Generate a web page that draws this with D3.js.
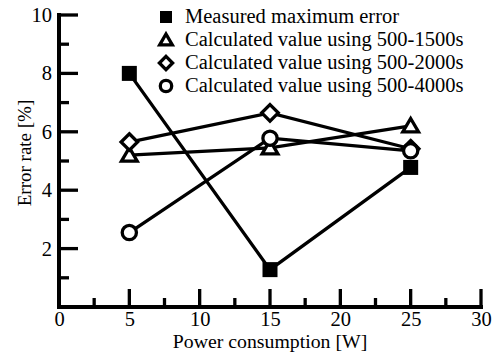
<!DOCTYPE html>
<html><head><meta charset="utf-8">
<script src="https://cdn.jsdelivr.net/npm/d3@7"></script>
<style>body{margin:0;background:#fff}svg{display:block}</style>
</head><body><svg id="c" width="499" height="352"></svg>
<script>
const powers = [5, 15, 25];
const measured = [8.0, 1.28, 4.78];
const calc1500 = [5.2, 5.45, 6.2];
const calc2000 = [5.65, 6.65, 5.42];
const calc4000 = [2.55, 5.78, 5.35];
const seriesNames = ["Measured maximum error","Calculated value using 500-1500s","Calculated value using 500-2000s","Calculated value using 500-4000s"];
const seriesShapes = ["square","triangle","diamond","circle"];
const xMajor = [0,5,10,15,20,25,30];
const yMajor = [2,4,6,8,10];
const FONT = "'Liberation Serif', 'Times New Roman', Times, 'DejaVu Serif', serif";
const FS = 20.5;

const svg = d3.select("#c");
const x = d3.scaleLinear().domain([0,30]).range([59,481]);
const y = d3.scaleLinear().domain([0,10]).range([307,15]);
const sw = 3.3;

const g = svg.append("g");
g.append("line").attr("x1",x(0)).attr("x2",x(30)).attr("y1",y(0)).attr("y2",y(0)).attr("stroke","#000").attr("stroke-width",4).attr("stroke-linecap","square");
g.append("line").attr("x1",x(0)).attr("x2",x(0)).attr("y1",y(0)).attr("y2",y(10)).attr("stroke","#000").attr("stroke-width",4).attr("stroke-linecap","square");

const xAxis = d3.axisBottom(x).tickValues(xMajor).tickSize(0).tickPadding(0);
const xa = svg.append("g").attr("transform",`translate(0,${y(0)})`).call(xAxis).attr("font-family",FONT).attr("font-size",FS);
xa.select(".domain").remove();
xa.selectAll("text").attr("dy","0").attr("y",19).attr("fill","#000");
d3.range(2.5,30.1,2.5).forEach(v=>{
  const major = Math.abs(v%5)<1e-6;
  g.append("line").attr("x1",x(v)).attr("x2",x(v)).attr("y1",y(0)).attr("y2",y(0)-(major?18:9)).attr("stroke","#000").attr("stroke-width",sw);
});
const yAxis = d3.axisLeft(y).tickValues(yMajor).tickSize(0).tickPadding(7);
const ya = svg.append("g").attr("transform",`translate(${x(0)},0)`).call(yAxis).attr("font-family",FONT).attr("font-size",FS);
ya.select(".domain").remove();
ya.selectAll("text").attr("fill","#000");
d3.range(1,10.1,1).forEach(v=>{
  const major = v%2===0;
  g.append("line").attr("x1",x(0)).attr("x2",x(0)+(major?19:10)).attr("y1",y(v)).attr("y2",y(v)).attr("stroke","#000").attr("stroke-width",sw);
});

svg.append("text").attr("x",270).attr("y",348).attr("text-anchor","middle").attr("font-family",FONT).attr("font-size",19.8).text("Power consumption [W]");
svg.append("text").attr("transform","translate(31,153) rotate(-90)").attr("text-anchor","middle").attr("font-family",FONT).attr("font-size",19).text("Error rate [%]");

const allSeries = [measured, calc1500, calc2000, calc4000];
const line = d3.line().x((d,i)=>x(powers[i])).y(d=>y(d));
allSeries.forEach(s=>{
  svg.append("path").attr("d",line(s)).attr("fill","none").attr("stroke","#000").attr("stroke-width",sw);
});
function marker(sel, shape, cx, cy, s){
  if(shape==="square"){
    sel.append("rect").attr("x",cx-s).attr("y",cy-s).attr("width",2*s).attr("height",2*s).attr("fill","#000");
  } else if(shape==="triangle"){
    const h=s*1.0;
    sel.append("path").attr("d",`M${cx},${cy-h}L${cx+s*1.05},${cy+h*0.8}L${cx-s*1.05},${cy+h*0.8}Z`).attr("fill","#fff").attr("stroke","#000").attr("stroke-width",sw).attr("stroke-linejoin","miter");
  } else if(shape==="diamond"){
    sel.append("path").attr("d",`M${cx},${cy-s*1.1}L${cx+s*1.1},${cy}L${cx},${cy+s*1.1}L${cx-s*1.1},${cy}Z`).attr("fill","#fff").attr("stroke","#000").attr("stroke-width",sw);
  } else {
    sel.append("circle").attr("cx",cx).attr("cy",cy).attr("r",s*0.95).attr("fill","#fff").attr("stroke","#000").attr("stroke-width",sw);
  }
}
allSeries.forEach((s,k)=>{
  s.forEach((v,i)=>marker(svg, seriesShapes[k], x(powers[i]), y(v), 7.5));
});

const legY = [16, 39, 62, 85];
seriesNames.forEach((n,k)=>{
  marker(svg, seriesShapes[k], 166, legY[k]+1, 6);
  svg.append("text").attr("x",185).attr("y",legY[k]).attr("dy","0.32em").attr("font-family",FONT).attr("font-size",FS).text(n);
});
</script></body></html>
